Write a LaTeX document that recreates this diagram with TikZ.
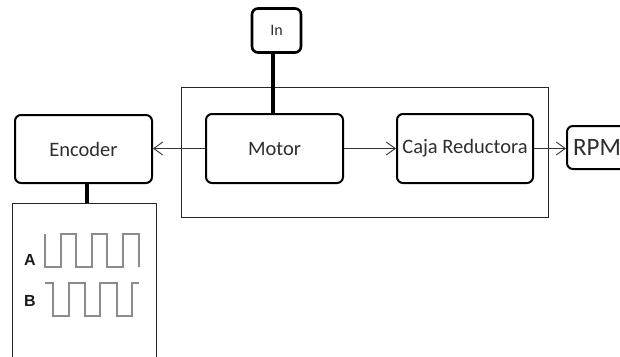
\documentclass[tikz,border=0pt]{standalone}
\usepackage{fontspec}
\setmainfont{Carlito}
\newfontfamily\labfont{Liberation Sans}
\usetikzlibrary{arrows.meta}
\definecolor{txt}{HTML}{2E2E2E}
\definecolor{wave}{HTML}{8C8C8C}
\tikzset{
  blockbox/.style={draw=black, line width=2pt, rounded corners=6pt, fill=white, text=txt, font=\fontsize{20.5}{24}\selectfont, inner sep=0pt},
  framebox/.style={draw=black!85, line width=0.9pt, inner sep=0pt},
  link/.style={draw=black!80, line width=0.9pt, -{Straight Barb[length=9pt,width=13pt,line width=0.9pt]}},
  shaft/.style={draw=black, line width=4pt},
  wavepath/.style={draw=wave, line width=1.4pt, line join=miter},
  wavelabel/.style={font=\labfont\bfseries\fontsize{16}{18}\selectfont, text=black!90, inner sep=0pt}
}
\begin{document}
\begin{tikzpicture}[x=1pt,y=-1pt]
\clip (0,0) rectangle (620,356);
\fill[white] (0,0) rectangle (620,356);
% frame around motor and gearbox
\node[framebox, minimum width=367pt, minimum height=130pt] (sys) at (364.5,152) {};
% blocks
\node[blockbox, minimum width=137pt, minimum height=68pt] (enc) at (83.5,149) {Encoder};
\node[blockbox, minimum width=137pt, minimum height=69pt] (motor) at (274.5,148.5) {Motor};
\node[blockbox, minimum width=136pt, minimum height=69pt] (caja) at (465,148.5) {Caja Reductora};
\node[blockbox, line width=2.6pt, minimum width=49pt, minimum height=44pt, font=\fontsize{16}{18}\selectfont] (in) at (276.5,30.5) {In};
\node[blockbox, anchor=west, text width=62pt, inner xsep=6pt, minimum height=43pt, align=left, font=\fontsize{25}{28}\selectfont] (rpm) at (566,147.5) {RPM};
% waveform box
\node[framebox, minimum width=144pt, minimum height=157pt] (wbox) at (84,281.5) {};
% shafts
\coordinate (inx) at (273,0);
\coordinate (encx) at (87,0);
\draw[shaft] (in.south -| inx) -- (motor.north -| inx);
\draw[shaft] (enc.south -| encx) -- (wbox.north -| encx);
% arrows
\draw[link] (motor.west) -- (enc.east |- motor.west);
\draw[link] (motor.east) -- (caja.west);
\draw[link] (caja.east) -- (caja.east -| rpm.west);
% waveforms
\node[wavelabel] (la) at (30,260) {A};
\node[wavelabel] (lb) at (30,301) {B};
\draw[wavepath] (45,234) -- (45,267) -- (61,267) -- (61,234) -- (76,234) -- (76,267) -- (92,267) -- (92,234) -- (107,234) -- (107,267) -- (123,267) -- (123,234) -- (139,234) -- (139,267);
\draw[wavepath] (45,283) -- (53,283) -- (53,316) -- (69,316) -- (69,283) -- (85,283) -- (85,316) -- (100,316) -- (100,283) -- (117,283) -- (117,316) -- (132,316) -- (132,283) -- (139,283);
\end{tikzpicture}
\end{document}
